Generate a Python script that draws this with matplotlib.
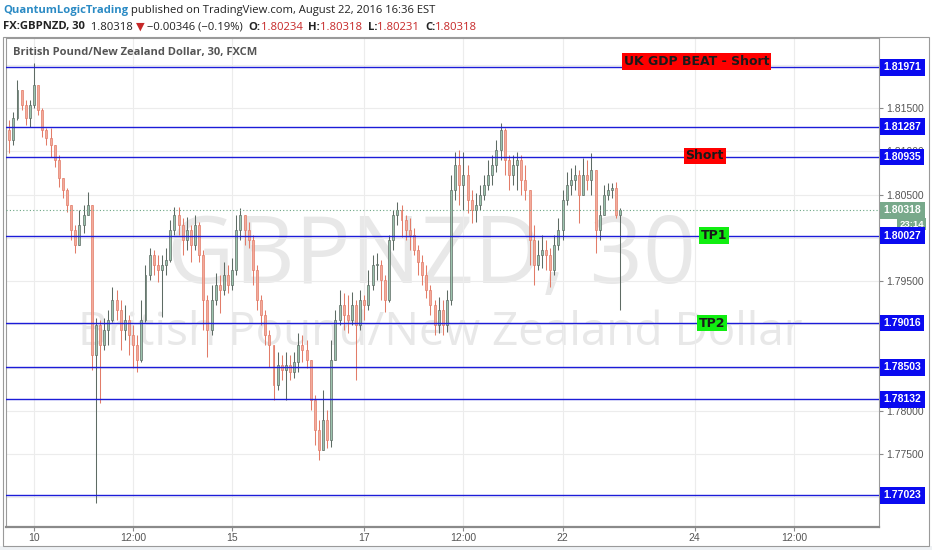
import numpy as np
import matplotlib.pyplot as plt
from matplotlib.patches import Rectangle

# GBPNZD candles (one bar every 1.5 h of trading time)
first_open = 1.8125
closes = [1.8113, 1.8139, 1.8171, 1.8154, 1.8139, 1.8154, 1.8177, 1.8148, 1.8125, 1.8115,
          1.8107, 1.8090, 1.8069, 1.8055, 1.8038, 1.8009, 1.7992, 1.8015, 1.8026, 1.8038,
          1.7865, 1.7899, 1.7876, 1.7894, 1.7905, 1.7928, 1.7917, 1.7894, 1.7905, 1.7888,
          1.7876, 1.7859, 1.7905, 1.7957, 1.7980, 1.7969, 1.7963, 1.7969, 1.7974, 1.8009,
          1.8026, 1.8015, 1.7998, 1.8009, 1.7992, 1.8015, 1.7980, 1.7928, 1.7894, 1.7928,
          1.7946, 1.7940, 1.7957, 1.7946, 1.7963, 1.8009, 1.8026, 1.8009, 1.7998, 1.7963,
          1.7928, 1.7911, 1.7888, 1.7876, 1.7830, 1.7853, 1.7847, 1.7853, 1.7845, 1.7857,
          1.7876, 1.7870, 1.7859, 1.7813, 1.7778, 1.7755, 1.7789, 1.7766, 1.7859, 1.7905,
          1.7922, 1.7911, 1.7905, 1.7922, 1.7899, 1.7928, 1.7922, 1.7946, 1.7969, 1.7969,
          1.7951, 1.7928, 1.7998, 1.8026, 1.8032, 1.8021, 1.8009, 1.8003, 1.7986, 1.7972,
          1.7957, 1.7940, 1.7922, 1.7899, 1.7917, 1.7899, 1.7928, 1.8055, 1.8084, 1.8061,
          1.8073, 1.8044, 1.8032, 1.8038, 1.8050, 1.8061, 1.8073, 1.8084, 1.8102, 1.8125,
          1.8090, 1.8073, 1.8084, 1.8090, 1.8067, 1.8055, 1.7998, 1.7969, 1.7980, 1.7986,
          1.7980, 1.7963, 1.7992, 1.8009, 1.8044, 1.8061, 1.8067, 1.8073, 1.8050, 1.8073,
          1.8067, 1.8078, 1.8009, 1.8026, 1.8050, 1.8055, 1.8058, 1.8026, 1.8032]
highs = [1.8136, 1.8146, 1.8183, 1.8169, 1.8159, 1.8159, 1.8202, 1.8171, 1.8150, 1.8127,
         1.8127, 1.8102, 1.8096, 1.8069, 1.8058, 1.8032, 1.8015, 1.8032, 1.8038, 1.8053,
         1.8032, 1.7907, 1.7905, 1.7907, 1.7917, 1.7943, 1.7940, 1.7928, 1.7922, 1.7911,
         1.7899, 1.7888, 1.7928, 1.7969, 1.7988, 1.7986, 1.7980, 1.7980, 1.7988, 1.8021,
         1.8036, 1.8036, 1.8023, 1.8024, 1.8015, 1.8026, 1.8018, 1.7986, 1.7934, 1.7946,
         1.7959, 1.7957, 1.7972, 1.7969, 1.7977, 1.8026, 1.8035, 1.8026, 1.8018, 1.8003,
         1.7969, 1.7934, 1.7917, 1.7894, 1.7876, 1.7868, 1.7865, 1.7868, 1.7865, 1.7868,
         1.7890, 1.7888, 1.7882, 1.7859, 1.7818, 1.7789, 1.7824, 1.7801, 1.7882, 1.7917,
         1.7940, 1.7936, 1.7934, 1.7937, 1.7928, 1.7940, 1.7934, 1.7963, 1.7980, 1.7983,
         1.7974, 1.7957, 1.8003, 1.8032, 1.8041, 1.8038, 1.8026, 1.8023, 1.8011, 1.7992,
         1.7980, 1.7969, 1.7946, 1.7928, 1.7932, 1.7928, 1.7940, 1.8073, 1.8099, 1.8102,
         1.8099, 1.8084, 1.8055, 1.8052, 1.8061, 1.8073, 1.8090, 1.8096, 1.8113, 1.8133,
         1.8127, 1.8096, 1.8096, 1.8099, 1.8096, 1.8084, 1.8055, 1.8015, 1.7998, 1.8003,
         1.7998, 1.7988, 1.8003, 1.8023, 1.8055, 1.8076, 1.8081, 1.8084, 1.8078, 1.8092,
         1.8090, 1.8098, 1.8078, 1.8038, 1.8061, 1.8063, 1.8063, 1.8065, 1.8035]
lows = [1.8098, 1.8107, 1.8136, 1.8148, 1.8131, 1.8128, 1.8150, 1.8142, 1.8117, 1.8107,
        1.8094, 1.8082, 1.8059, 1.8046, 1.8030, 1.7998, 1.7983, 1.8003, 1.8006, 1.8029,
        1.7847, 1.7694, 1.7809, 1.7870, 1.7876, 1.7903, 1.7905, 1.7870, 1.7882, 1.7865,
        1.7850, 1.7845, 1.7857, 1.7903, 1.7951, 1.7957, 1.7949, 1.7909, 1.7957, 1.7972,
        1.8003, 1.8003, 1.7980, 1.7986, 1.7972, 1.7986, 1.7972, 1.7894, 1.7862, 1.7888,
        1.7922, 1.7913, 1.7934, 1.7936, 1.7940, 1.7957, 1.7998, 1.7992, 1.7988, 1.7946,
        1.7917, 1.7899, 1.7876, 1.7851, 1.7813, 1.7824, 1.7836, 1.7813, 1.7836, 1.7838,
        1.7845, 1.7857, 1.7850, 1.7801, 1.7761, 1.7743, 1.7761, 1.7757, 1.7758, 1.7870,
        1.7899, 1.7894, 1.7890, 1.7899, 1.7836, 1.7894, 1.7905, 1.7917, 1.7940, 1.7951,
        1.7928, 1.7914, 1.7926, 1.7986, 1.8015, 1.8001, 1.7998, 1.7986, 1.7980, 1.7957,
        1.7946, 1.7931, 1.7911, 1.7888, 1.7890, 1.7888, 1.7891, 1.7922, 1.8044, 1.8038,
        1.8032, 1.8029, 1.8017, 1.8018, 1.8032, 1.8044, 1.8055, 1.8061, 1.8076, 1.8090,
        1.8073, 1.8055, 1.8061, 1.8055, 1.8050, 1.8044, 1.7969, 1.7946, 1.7963, 1.7965,
        1.7963, 1.7943, 1.7957, 1.7986, 1.7998, 1.8038, 1.8050, 1.8055, 1.8017, 1.8050,
        1.8055, 1.8050, 1.7983, 1.7998, 1.8032, 1.8044, 1.8046, 1.8023, 1.7917]

bar_start = -0.375   # trading days after Aug 10 00:00
bar_step = 1 / 16

levels = [1.81971, 1.81287, 1.80935, 1.80027, 1.79016, 1.78503, 1.78132, 1.77023]
level_labels = ['1.81971', '1.81287', '1.80935', '1.80027', '1.79016', '1.78503', '1.78132', '1.77023']
last_price = 1.80318
price_ticks = [1.770, 1.775, 1.780, 1.785, 1.790, 1.795, 1.800, 1.805, 1.810, 1.815, 1.820]
# labels that sit behind the level boxes are left blank
price_tick_labels = ['', '1.77500', '1.78000', '', '', '1.79500', '', '1.80500', '1.81000', '1.81500', '']

tick_pos = [0, 1.5, 3, 5, 6.5, 8, 10, 11.5]
tick_labels = ['10', '12:00', '15', '17', '12:00', '22', '24', '12:00']

W, H = 932, 550
fig = plt.figure(figsize=(W / 100, H / 100), dpi=100)
fig.patch.set_facecolor('white')

# outer frame + bottom strip
fig.add_artist(Rectangle((0, 0), 1, 1 - 546 / H, transform=fig.transFigure, fc='#eef1f4', ec='none', zorder=0))
fig.add_artist(Rectangle((3 / W, 1 - 546 / H), 926 / W, 509 / H, transform=fig.transFigure,
                         fc='none', ec='#9a9a9a', lw=0.8, zorder=1))

ax = fig.add_axes([6 / W, 1 - 527 / H, 873 / W, 489 / H])
ax.set_xlim(-0.424, 12.79)
ax.set_ylim(1.76658, 1.82311)

# watermark
ax.text(0.487, 0.55, 'GBPNZD, 30', transform=ax.transAxes, ha='center', va='center',
        fontsize=67, color='#e8e8e8', family='Open Sans', zorder=0.5)
ax.text(0.497, 0.397, 'British Pound/New Zealand Dollar', transform=ax.transAxes, ha='center', va='center',
        fontsize=33, color='#e8e8e8', family='Open Sans', zorder=0.5)

# candles
opens = np.array([first_open] + closes[:-1])
c = np.array(closes)
hi = np.array(highs)
lo = np.array(lows)
t = bar_start + bar_step * np.arange(len(c))
up = c >= opens
edge = np.where(up, '#5e6b64', '#e27c68')
fill = np.where(up, '#9cc4ae', '#f3ab9b')
ax.vlines(t, np.minimum(lo, np.minimum(opens, c)), np.maximum(hi, np.maximum(opens, c)),
          colors=edge, lw=0.75, zorder=3)
ax.bar(t, np.maximum(np.abs(c - opens), 0.00005), bottom=np.minimum(opens, c), width=0.03,
       color=fill, edgecolor=edge, linewidth=0.5, zorder=3.1)

# horizontal levels
for lv in levels:
    ax.axhline(lv, color='#1c1cd8', lw=1.0, zorder=4)
ax.axhline(last_price, color='#6ba583', lw=0.8, ls=(0, (1, 2)), zorder=4)

# grid + axes
ax.set_xticks(tick_pos, tick_labels)
ax.set_yticks(price_ticks, price_tick_labels)
ax.yaxis.tick_right()
ax.grid(True, color='#ececec', lw=0.8, zorder=0)
ax.set_axisbelow(True)
ax.tick_params(axis='both', colors='#8a8a8a', labelcolor='#555555', labelsize=7.5, length=3, width=0.8)
ax.tick_params(axis='x', pad=1.5)
ax.tick_params(axis='y', pad=2)
for lab in ax.get_xticklabels() + ax.get_yticklabels():
    lab.set_family('Liberation Sans')
for side in ['left', 'right', 'top']:
    ax.spines[side].set_color('#9a9a9a')
    ax.spines[side].set_linewidth(0.8)
ax.spines['bottom'].set_color('#8a8a8a')
ax.spines['bottom'].set_linewidth(1.6)

# price labels on right axis
ytr = ax.get_yaxis_transform()
for lv, lab in zip(levels, level_labels):
    ax.annotate(lab, xy=(1, lv), xycoords=ytr, xytext=(3.2, 0), textcoords='offset points',
                ha='left', va='center', color='white', fontweight='bold', fontsize=7.5,
                family='Liberation Sans', annotation_clip=False, zorder=6,
                bbox=dict(boxstyle='square,pad=0.32', fc='#0a0af0', ec='none'))
ax.annotate('1.80318', xy=(1, last_price), xycoords=ytr, xytext=(3.2, 0), textcoords='offset points',
            ha='left', va='center', color='white', fontweight='bold', fontsize=7.5,
            family='Liberation Sans', annotation_clip=False, zorder=6,
            bbox=dict(boxstyle='square,pad=0.32', fc='#78a98b', ec='none'))
ax.annotate('23:14', xy=(1, last_price), xycoords=ytr, xytext=(14.5, -9.8), textcoords='offset points',
            ha='left', va='center', color='white', fontweight='bold', fontsize=6.8,
            family='Liberation Sans', annotation_clip=False, zorder=5,
            bbox=dict(boxstyle='square,pad=0.2', fc='#78a98b', ec='none'))

# trade notes
notes = [('UK GDP BEAT - Short', '#ff0000'), ('Short', '#ff0000'), ('TP1', '#11ee11'), ('TP2', '#11ee11')]
note_xy = [(10.03, 1.8204), (10.15, 1.80947), (10.3, 1.80027), (10.26, 1.79016)]
for (txt, col), (x, y) in zip(notes, note_xy):
    ax.text(x, y, txt, ha='center', va='center', fontsize=9, fontweight='bold', color='#1a1a1a',
            family='DejaVu Sans', zorder=7,
            bbox=dict(boxstyle='square,pad=0.14', fc=col, ec='none'))

# panel title
ax.text(7 / 873, 1 - 14 / 489, 'British Pound/New Zealand Dollar, 30, FXCM', transform=ax.transAxes,
        ha='left', va='center', fontsize=8, fontweight='bold', color='#555555', family='Open Sans', zorder=7)


# header lines, pieces chained one after another
def header(parts, y):
    prev = None
    for s, col, wt in parts:
        kw = dict(color=col, fontweight=wt, fontsize=8.1, family=['Open Sans', 'DejaVu Sans'])
        if prev is None:
            prev = fig.text(3 / W, 1 - y / H, s, va='center', ha='left', **kw)
        else:
            prev = ax.annotate(s, xy=(1, 0.5), xycoords=prev, va='center', ha='left',
                               annotation_clip=False, **kw)


header([('QuantumLogicTrading', '#2a8ac4', 'bold'),
        (' published on TradingView.com, August 22, 2016 16:36 EST', '#222222', 'normal')], 10)
red = '#c62828'
header([('FX:GBPNZD, 30', '#222222', 'bold'), ('  1.80318 ', '#222222', 'normal'),
        ('\u25bc', red, 'normal'), (' \u22120.00346 (\u22120.19%)  ', '#222222', 'normal'),
        ('O:', '#222222', 'bold'), ('1.80234  ', red, 'normal'),
        ('H:', '#222222', 'bold'), ('1.80318  ', red, 'normal'),
        ('L:', '#222222', 'bold'), ('1.80231  ', red, 'normal'),
        ('C:', '#222222', 'bold'), ('1.80318', red, 'normal')], 27)

fig.savefig('out.png', dpi=100)
